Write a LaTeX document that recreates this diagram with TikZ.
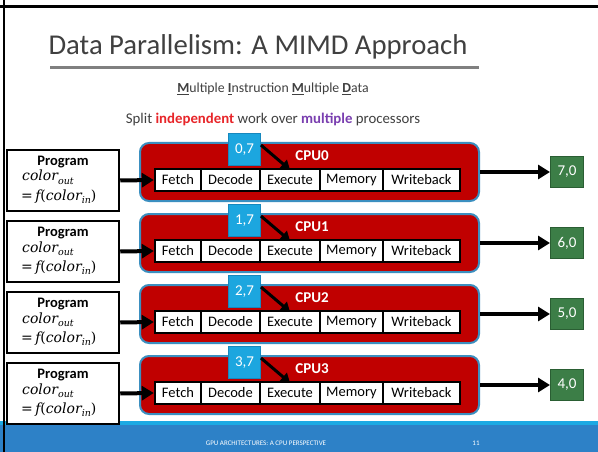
\documentclass[tikz,border=0pt]{standalone}
\usepackage{fontspec}
\setmainfont{Carlito}
\newfontfamily\mathserif{DejaVu Serif}
\usetikzlibrary{arrows.meta}
\definecolor{cpured}{HTML}{C00000}
\definecolor{cpuedge}{HTML}{3B8FC0}
\definecolor{datablue}{HTML}{1CA6DF}
\definecolor{dataedge}{HTML}{1788BE}
\definecolor{outgreen}{HTML}{3C7E47}
\definecolor{outedge}{HTML}{2A5E33}
\definecolor{titlegrey}{HTML}{404040}
\definecolor{rulegrey}{HTML}{808080}
\definecolor{footlight}{HTML}{1CA9E3}
\definecolor{footblue}{HTML}{2D81C7}
\definecolor{indred}{HTML}{E8262A}
\definecolor{mulpurple}{HTML}{7A3FB0}
\newcommand{\lowsub}[1]{\raisebox{-3pt}{\fontsize{9.5}{10}\selectfont #1}}
\begin{document}
\begin{tikzpicture}[x=1pt,y=-1pt,
  progbox/.style={draw=black,line width=2.5pt,fill=white,minimum width=112pt,minimum height=61pt,inner sep=0pt},
  cpubox/.style={draw=cpuedge,line width=2pt,fill=cpured,rounded corners=9pt,minimum width=339pt,minimum height=58pt,inner sep=0pt},
  strip/.style={fill=black,minimum width=307pt,minimum height=24pt,inner sep=0pt},
  stagebox/.style={fill=white,minimum height=20pt,inner sep=0pt,font=\fontsize{14.5}{16}\selectfont},
  databox/.style={draw=dataedge,line width=1pt,fill=datablue,minimum width=32pt,minimum height=32pt,inner sep=0pt,text=white,font=\fontsize{15}{16}\selectfont},
  outbox/.style={draw=outedge,line width=1pt,fill=outgreen,minimum width=33pt,minimum height=31pt,inner sep=0pt,text=white,font=\fontsize{15}{16}\selectfont},
  bigarrow/.style={line width=4pt,-{Triangle[length=12pt,width=14pt]}},
  dataarrow/.style={line width=3pt,-{Triangle[length=9pt,width=11pt]}},
  cpulabel/.style={text=white,font=\bfseries\fontsize{15}{16}\selectfont,inner sep=0pt},
  mathline/.style={inner sep=0pt,anchor=base west,font=\mathserif\fontsize{14}{15}\selectfont},
]
\useasboundingbox (0,0) rectangle (598,452);
\fill[white] (0,0) rectangle (598,452);
% footer
\fill[footlight] (0,420.5) rectangle (598,425);
\fill[footblue] (0,425) rectangle (598,452);
\node[text=white,font=\fontsize{7}{8}\selectfont,inner sep=0pt] (foot) at (266,443) {GPU ARCHITECTURES: A CPU PERSPECTIVE};
\node[text=white,font=\fontsize{7}{8}\selectfont,inner sep=0pt] (pagenum) at (476,443) {11};
% frame
\draw[line width=2.6pt] (0,6.3) -- (598,6.3);
\draw[line width=2pt] (4.3,0) -- (4.3,452);
% title
\node[text=titlegrey,font=\fontsize{28.7}{32}\selectfont,inner sep=0pt] (title) at (258,47) {Data Parallelism: A MIMD Approach};
\draw[rulegrey,line width=2.2pt] (50,67.5) -- (479,67.5);
\node[text=titlegrey,font=\fontsize{13.8}{15}\selectfont,inner sep=0pt] (sub1) at (273,89) {\underline{\textbf{M}}ultiple \underline{\textbf{I}}nstruction \underline{\textbf{M}}ultiple \underline{\textbf{D}}ata};
\node[text=titlegrey,font=\fontsize{14.8}{16}\selectfont,inner sep=0pt] (sub2) at (273,119) {Split \textcolor{indred}{\textbf{independent}} work over \textcolor{mulpurple}{\textbf{multiple}} processors};
% rows
\foreach \i/\blue/\green in {0/{0,7}/{7,0},1/{1,7}/{6,0},2/{2,7}/{5,0},3/{3,7}/{4,0}} {
  \pgfmathsetmacro{\oy}{71*\i}
  \begin{scope}[yshift=-\oy pt]
    \node[progbox] (p\i) at (63,180.5) {};
    \node[inner sep=0pt,font=\bfseries\fontsize{14.5}{16}\selectfont] (pt\i) at (63,162) {Program};
    \node[mathline] (pa\i) at (22,181) {\itshape color\lowsub{out}};
    \node[mathline] (pb\i) at (21,200.5) {=\,\itshape f\upshape(\itshape color\lowsub{in}\upshape)};
    \node[cpubox] (c\i) at (309.5,172) {};
    \node[cpulabel] (cl\i) at (312,156) {CPU\i};
    \node[strip] (s\i) at (307.5,180) {};
    \node[stagebox,minimum width=44pt] (f\i) at (178,180) {Fetch};
    \node[stagebox,minimum width=57pt] (d\i) at (230.5,180) {Decode};
    \node[stagebox,minimum width=58pt] (e\i) at (290,180) {Execute};
    \node[stagebox,minimum width=61pt] (m\i) at (351.5,180) {Memory};
    \node[stagebox,minimum width=75pt] (w\i) at (421.5,180) {Writeback};
    \node[databox] (b\i) at (244.5,149.5) {\blue};
    \node[outbox] (g\i) at (567,172) {\green};
    \draw[bigarrow] (p\i.east) -- (s\i.west);
    \draw[bigarrow] (c\i.east) -- (g\i.west);
    \draw[dataarrow] (b\i.15) -- (e\i.north);
  \end{scope}
}
\end{tikzpicture}
\end{document}
